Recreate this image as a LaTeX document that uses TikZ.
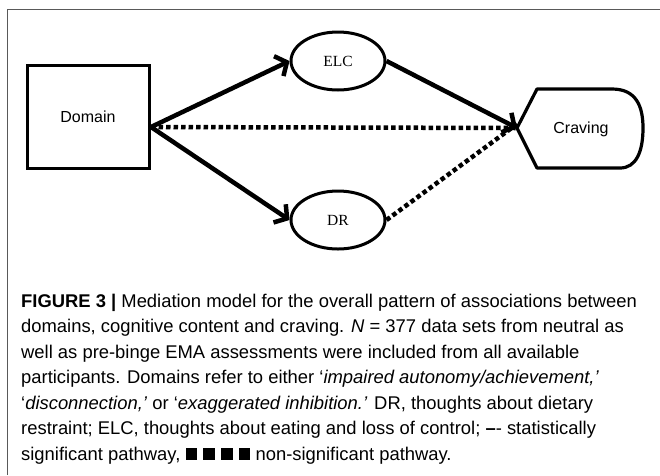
\documentclass[tikz,border=0pt]{standalone}
\usepackage{fontspec}
\setmainfont{Liberation Sans}
\newfontfamily\serifx{Liberation Serif}
\usetikzlibrary{shapes.geometric,arrows.meta}
\tikzset{
  frame/.style={draw=black!65, line width=1.3pt},
  shapeline/.style={draw=black, line width=3pt},
  med/.style={ellipse, shapeline, minimum width=94pt, minimum height=58pt, inner sep=0pt, font=\serifx\fontsize{15.5}{17}\selectfont},
  sig/.style={line width=4.5pt, -{Straight Barb[length=9pt,width=22pt]}},
  nonsig/.style={line width=4.5pt, dash pattern=on 4.5pt off 3pt},
  sqbox/.style={draw=black, line width=3pt}
}
\newcommand{\blk}{\rule{0.62em}{0.66em}}
\begin{document}
\begin{tikzpicture}[x=1pt,y=-1pt]
\useasboundingbox (0,0) rectangle (660,475);
% frame
\draw[frame] (7.5,475) -- (7.5,9.5) -- (660,9.5);
% nodes
\node[rectangle, sqbox, minimum width=122pt, minimum height=103pt, inner sep=0pt, font=\fontsize{16}{18}\selectfont] (dom) at (88,116.5) {Domain};
\node[med] (elc) at (338,61) {ELC};
\node[med] (dr) at (338,220) {DR};
% craving shape
\coordinate (cv) at (517,128);
\draw[line width=3.2pt, line join=round] (cv) -- (537,89) -- (612,89) .. controls (636,89) and (643,106) .. (643,128) .. controls (643,152) and (636,168) .. (620,168) -- (537,168) -- cycle;
\node[font=\fontsize{16}{18}\selectfont] (crav) at (581,129) {Craving};
\coordinate (src) at (151,127);
% connectors
\draw[nonsig] (src) -- (cv);
\draw[nonsig] (dr.east) -- ([yshift=4pt]cv);
\draw[sig] (src) -- (elc.west);
\draw[sig] (src) -- (dr.west);
\draw[sig] (elc.east) -- (cv);
% caption
\node[anchor=base west, align=left, inner sep=0pt, font=\fontsize{18.4}{25.5}\selectfont] (cap) at (21,460) {%
\textbf{FIGURE 3 |} Mediation model for the overall pattern of associations between\\
domains, cognitive content and craving. \textit{N} = 377 data sets from neutral as\\
well as pre-binge EMA assessments were included from all available\\
participants. Domains refer to either ‘\textit{impaired autonomy/achievement,’}\\
‘\textit{disconnection,’} or ‘\textit{exaggerated inhibition.’} DR, thoughts about dietary\\
restraint; ELC, thoughts about eating and loss of control; \textbf{–}- statistically\\
significant pathway, \blk\hspace{0.35em}\blk\hspace{0.35em}\blk\hspace{0.35em}\blk{} non-significant pathway.};
\end{tikzpicture}
\end{document}
